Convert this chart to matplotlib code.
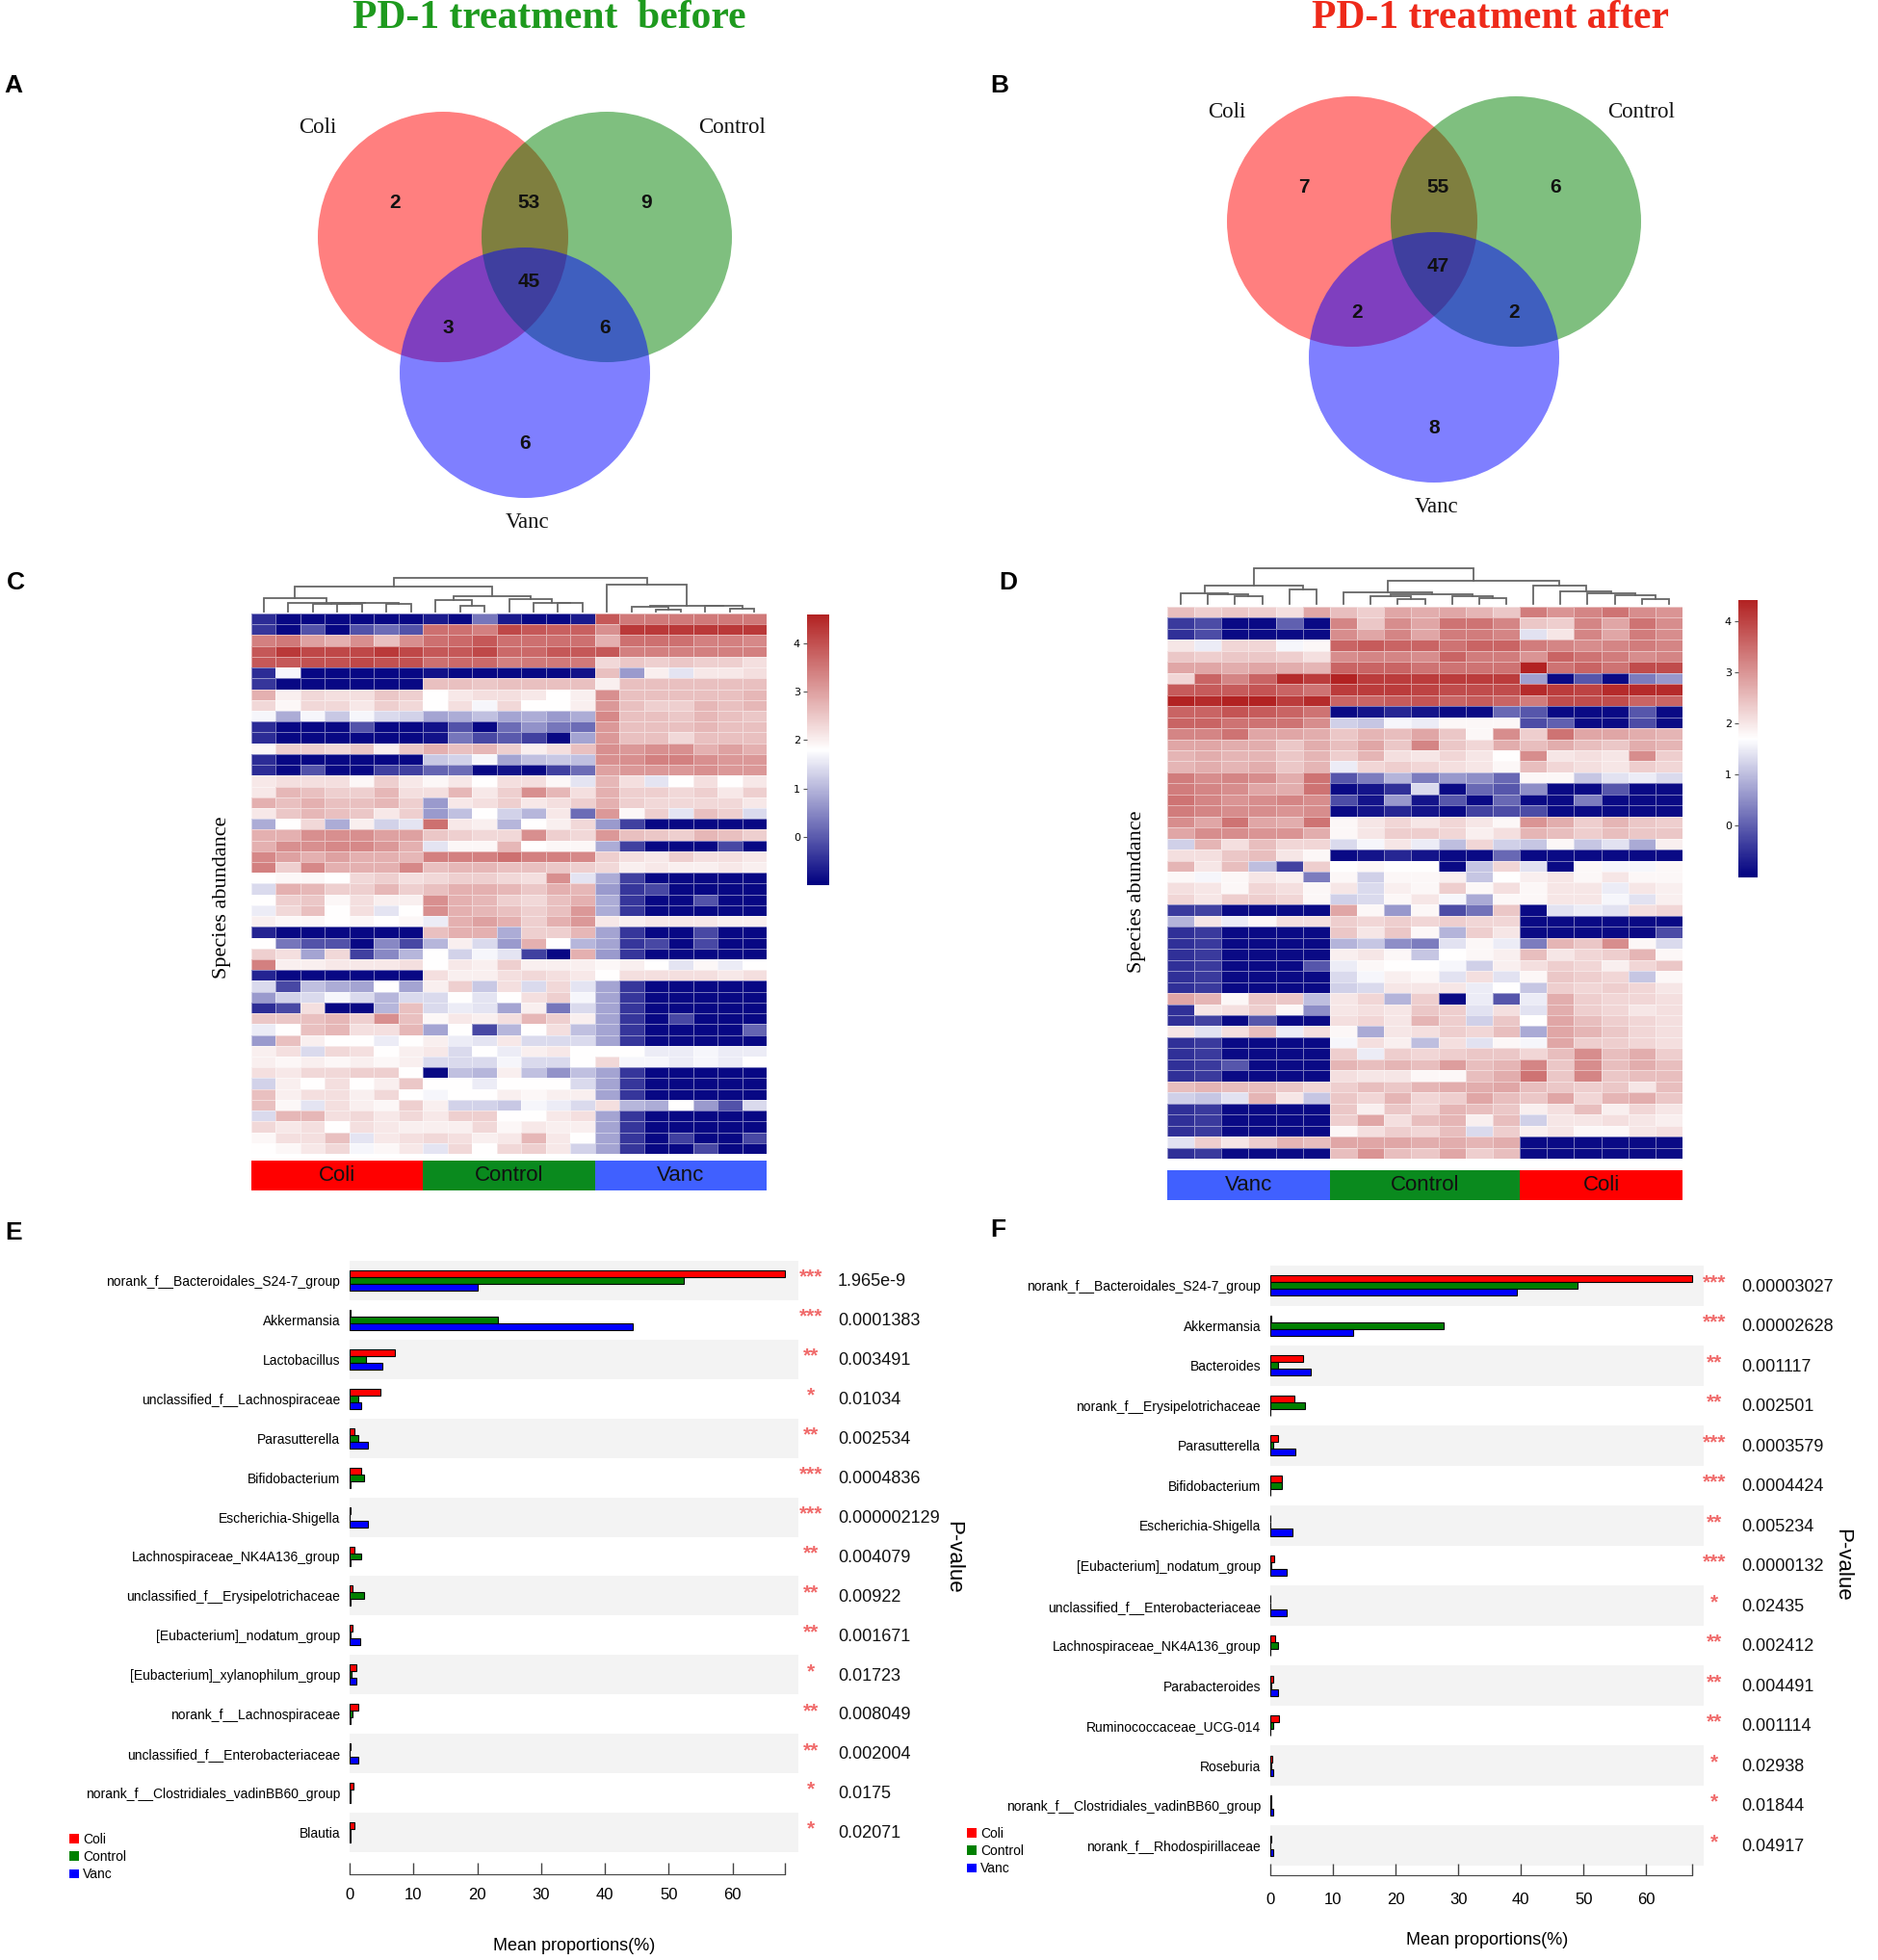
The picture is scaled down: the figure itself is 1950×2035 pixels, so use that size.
import numpy as np
import matplotlib
matplotlib.use("Agg")
import matplotlib.pyplot as plt
from matplotlib.patches import Circle, Patch
from matplotlib.colors import LinearSegmentedColormap
from matplotlib.transforms import blended_transform_factory
import logging
logging.getLogger("matplotlib.font_manager").setLevel(logging.ERROR)

# ---------------------------------------------------------------- data
venn_sets = ["Coli", "Control", "Vanc"]
venn_regions = ["Coli", "Control", "Vanc", "Coli&Control", "Coli&Vanc", "Control&Vanc", "All"]
venn_before = [2, 9, 6, 53, 3, 6, 45]
venn_after = [7, 6, 8, 55, 2, 2, 47]

heat_c_groups = ["Coli"] * 7 + ["Control"] * 7 + ["Vanc"] * 7
heat_d_groups = ["Vanc"] * 6 + ["Control"] * 7 + ["Coli"] * 6

heat_c = np.array([
    [-0.5,-0.9,-0.9,-0.9,-0.9,-0.9,-0.9, -0.7,-0.9,0.3,-0.7,-0.9,-0.9,-0.7, 3.9,3.5,3.5,3.5,3.5,3.5,3.5],
    [-0.4,-0.9,-0.1,-0.9,-0.1,0.2,-0.1, 3.6,3.6,3.4,4.1,3.9,3.8,3.8, 3.2,4.3,4.3,4.3,4.3,4.3,4.3],
    [3.4,3.5,3.0,2.8,3.2,2.6,3.2, 3.6,3.7,3.9,3.6,3.6,3.6,3.6, 2.8,3.6,3.6,3.6,3.4,3.4,3.3],
    [3.9,4.3,4.1,4.1,4.1,4.3,4.1, 3.9,3.9,4.1,3.7,3.7,3.9,3.9, 3.9,3.4,3.4,3.4,3.4,3.4,3.4],
    [3.9,3.9,4.0,4.0,4.1,4.0,4.0, 3.6,3.7,3.7,3.4,3.5,3.5,3.5, 2.3,2.5,2.4,2.5,2.4,2.4,2.2],
    [-0.5,1.7,-0.9,-0.9,-0.9,-0.9,-0.9, -0.8,-0.9,-0.9,-0.9,-0.9,-0.9,-0.8, 2.6,0.7,2.0,1.5,2.1,2.1,2.2],
    [-0.4,-0.9,-0.9,-0.9,-0.9,-0.9,-0.9, 2.6,2.6,2.5,2.6,2.6,2.6,2.6, 2.0,2.6,2.6,2.6,2.6,2.6,2.6],
    [2.8,2.0,2.3,2.2,2.2,2.5,2.4, 1.8,2.1,2.2,2.2,2.1,1.8,2.0, 3.2,2.6,2.6,2.6,2.6,2.6,2.7],
    [2.3,1.9,2.3,2.3,2.1,2.4,2.3, 1.8,2.2,1.7,2.3,1.8,1.8,2.0, 3.1,2.6,2.4,2.4,2.7,2.6,2.7],
    [1.7,0.9,1.7,1.2,1.7,1.4,1.3, 0.8,0.9,1.1,0.8,0.9,0.7,0.9, 3.3,2.6,2.6,2.5,2.7,2.6,2.5],
    [-0.5,-0.9,-0.9,-0.9,-0.1,-0.9,-0.9, -0.8,-0.1,-0.9,0.2,0.6,0.3,0.2, 3.1,2.6,2.6,2.6,2.7,2.6,2.6],
    [-0.5,-0.9,-0.9,-0.9,-0.9,-0.9,-0.9, -0.8,0.3,-0.2,0.0,-0.3,-0.9,0.8, 3.1,2.6,2.6,2.3,2.6,2.6,2.6],
    [1.9,2.4,2.4,2.3,2.5,2.0,2.5, 2.8,2.6,2.7,2.4,2.0,2.2,2.6, 3.2,3.1,3.2,3.2,2.8,3.0,2.8],
    [-0.5,-0.9,-0.9,-0.9,-0.9,-0.9,-0.9, 1.2,1.3,1.7,0.8,1.1,1.2,1.1, 3.2,3.2,3.4,3.4,3.2,3.1,3.1],
    [-0.5,-0.9,-0.1,-0.9,-0.9,-0.3,-0.3, 0.1,0.2,-0.9,-0.8,-0.9,-0.3,0.2, 3.0,3.1,3.1,3.1,3.2,3.1,3.1],
    [2.1,2.2,2.2,2.2,1.9,2.4,2.1, 1.9,2.1,1.8,2.2,2.2,1.9,1.5, 2.7,2.2,1.5,1.8,2.2,1.8,2.1],
    [2.1,2.7,2.6,2.4,2.4,2.7,2.2, 2.2,2.7,2.1,2.4,3.2,2.7,2.2, 2.8,2.4,2.4,2.3,2.4,2.1,2.4],
    [2.8,2.6,2.8,2.6,2.6,2.7,2.4, 0.7,2.1,2.2,2.4,2.1,2.2,2.4, 2.8,2.4,2.3,2.3,2.3,2.3,2.1],
    [2.1,2.5,2.7,2.6,2.5,2.1,2.4, 0.7,1.1,1.8,1.3,1.0,2.1,0.2, 3.1,1.9,2.4,1.5,2.6,2.4,1.4],
    [0.9,1.8,2.3,0.9,2.0,1.3,1.5, 3.6,2.1,2.0,1.0,1.8,2.0,2.3, 0.7,-0.3,-0.9,-0.9,-0.9,-0.9,-0.9],
    [2.8,2.8,3.2,3.2,3.2,3.0,3.0, 2.5,2.4,2.3,2.3,3.2,2.4,2.3, 3.1,2.6,2.5,2.4,2.7,2.6,2.4],
    [2.8,3.2,3.2,3.3,3.3,3.1,2.8, 1.5,1.9,1.9,2.7,1.8,1.9,1.9, 0.9,-0.3,-0.9,-0.9,-0.9,-0.2,-0.9],
    [3.3,3.0,2.8,3.0,2.8,2.8,2.7, 3.4,3.4,3.4,3.6,3.4,3.4,3.3, 2.4,2.2,2.1,2.4,2.2,2.2,2.1],
    [3.4,2.4,3.3,2.8,2.8,2.8,3.3, 2.6,2.7,2.7,2.6,2.6,2.5,2.4, 2.3,2.0,2.1,2.0,2.0,2.1,2.0],
    [1.8,1.9,1.9,1.8,2.3,2.4,2.2, 2.3,2.4,2.4,2.3,2.2,3.2,1.5, 0.9,-0.3,-0.9,-0.9,-0.9,-0.9,-0.9],
    [1.4,2.8,2.7,2.4,2.4,2.7,2.4, 2.6,2.8,2.8,2.7,2.5,2.8,2.7, 0.7,-0.4,-0.2,-0.9,-0.9,-0.9,-0.9],
    [1.8,2.4,2.5,1.9,2.2,2.0,2.0, 3.2,2.8,2.7,2.4,2.3,2.6,2.8, 0.9,-0.4,-0.9,-0.9,-0.1,-0.9,-0.9],
    [1.6,2.3,2.6,1.8,2.2,1.5,1.8, 3.2,2.8,2.7,2.6,2.4,2.6,3.1, 0.9,-0.4,-0.9,-0.9,-0.9,-0.9,-0.9],
    [2.0,1.9,1.9,1.8,1.9,1.8,1.9, 1.6,2.8,3.0,2.8,2.4,2.8,3.1, 2.1,2.0,2.1,2.1,2.1,2.0,2.0],
    [-0.6,-0.9,-0.9,-0.9,-0.9,-0.9,-0.9, 2.6,2.8,2.8,0.9,2.4,2.4,2.7, 0.8,-0.4,-0.9,-0.9,-0.2,-0.9,-0.9],
    [1.8,0.3,-0.1,-0.1,-0.9,0.5,-0.2, 1.0,2.0,1.4,0.7,2.8,1.8,1.0, 0.8,-0.4,-0.2,-0.9,-0.2,-0.9,-0.9],
    [2.4,2.2,0.8,2.3,-0.3,0.5,1.0, 1.8,1.3,1.7,1.5,-0.3,-0.9,2.8, 0.7,-0.4,-0.9,-0.9,-0.9,-0.9,-0.9],
    [3.4,2.0,2.0,2.1,2.1,2.1,2.2, 1.8,2.1,2.0,2.4,2.0,2.0,2.0, 1.9,2.0,1.8,1.5,1.9,1.6,1.8],
    [-0.6,-0.9,-0.9,-0.9,-0.9,-0.9,-0.9, 2.2,2.0,2.0,2.2,2.3,2.2,2.1, 1.8,2.2,2.2,2.2,2.2,2.1,2.2],
    [1.4,-0.2,1.1,0.9,0.8,1.8,0.8, 2.0,2.4,1.2,2.2,1.4,2.3,1.5, 0.8,-0.4,-0.9,-0.9,-0.9,-0.9,-0.9],
    [0.7,1.3,1.4,1.7,1.4,1.0,1.4, 1.4,1.8,1.5,1.8,2.2,2.4,1.7, 0.8,-0.4,-0.9,-0.9,-0.9,-0.9,-0.9],
    [-0.5,-0.2,2.2,-0.9,-0.9,1.0,2.6, 1.4,1.6,1.5,0.8,2.0,0.3,1.4, 0.8,-0.4,-0.9,-0.9,-0.9,-0.9,-0.9],
    [2.5,2.5,2.6,2.7,2.4,3.2,2.6, 1.9,2.1,2.0,2.2,2.7,2.4,2.0, 0.8,-0.4,-0.9,-0.2,-0.9,-0.9,-0.9],
    [1.6,1.8,2.6,2.7,2.2,2.2,2.7, 0.8,1.8,-0.2,1.0,1.8,2.2,1.1, 0.8,-0.4,-0.9,-0.9,-0.9,-0.9,0.1],
    [0.7,2.6,2.0,1.8,1.8,1.6,1.8, 2.0,1.6,1.5,2.1,1.4,1.4,1.4, 0.8,-0.4,-0.9,-0.9,-0.9,-0.9,-0.9],
    [2.0,2.2,1.4,2.3,2.2,1.8,2.0, 2.1,1.4,1.8,1.6,2.0,2.1,1.8, 1.8,1.8,1.6,1.6,1.7,1.6,1.6],
    [2.0,1.9,2.0,1.9,2.0,1.9,2.0, 1.4,1.4,1.4,1.7,1.4,1.4,1.8, 2.3,1.7,1.7,1.6,1.7,1.6,1.8],
    [2.2,2.1,2.3,2.3,2.4,2.4,1.8, -0.9,1.1,1.0,2.0,1.1,0.6,1.1, 0.8,-0.4,-0.9,-0.9,-0.9,-0.9,-0.9],
    [1.3,2.0,1.8,2.2,1.8,2.0,2.5, 1.8,1.8,1.6,1.8,1.8,1.8,1.4, 0.8,-0.4,-0.9,-0.9,-0.9,-0.9,-0.9],
    [2.6,2.0,2.2,2.2,2.0,2.3,1.8, 1.7,1.8,1.8,2.0,1.9,2.0,2.0, 0.8,-0.4,-0.9,-0.9,-0.9,-0.9,-0.9],
    [2.6,1.9,1.5,2.2,2.0,1.9,2.4, 2.0,1.3,1.3,1.2,1.7,1.6,1.4, 2.2,1.0,0.9,1.8,0.7,-0.1,1.4],
    [1.4,2.7,2.7,2.2,2.3,2.1,2.3, 2.1,2.4,2.4,1.8,1.8,2.1,2.2, 0.8,-0.4,-0.9,-0.9,-0.9,-0.9,-0.9],
    [2.3,2.1,2.2,1.8,2.2,2.1,2.0, 2.0,2.0,2.3,1.9,2.1,2.0,2.0, 0.8,-0.4,-0.9,-0.9,-0.9,-0.9,-0.9],
    [1.9,2.2,2.2,2.6,1.5,2.1,2.2, 2.3,2.2,2.0,2.1,2.7,2.1,1.8, 0.8,-0.4,-0.9,-0.3,-0.9,-0.9,-0.2],
    [1.8,1.9,2.1,2.3,1.7,1.9,2.1, 1.5,2.3,1.8,2.3,2.4,2.1,1.3, 0.8,-0.4,-0.9,-0.9,-0.2,-0.9,-0.9],
])

heat_d = np.array([
    [2.5,2.3,2.4,2.3,2.1,2.8, 2.5,2.3,2.8,2.7,2.8,2.6,2.4, 3.3,3.0,3.2,3.4,3.1,3.0],
    [-0.4,-0.2,-0.9,-0.9,0.0,-0.9, 3.2,2.4,3.1,2.8,3.4,3.4,3.2, 2.4,2.3,3.2,2.8,3.4,3.1],
    [-0.5,-0.2,-0.9,-0.9,-0.9,-0.9, 3.1,2.8,3.2,2.8,3.3,3.3,3.2, 1.4,2.0,3.2,2.8,3.3,3.1],
    [2.0,1.5,2.2,2.2,1.6,1.8, 3.6,3.7,3.6,3.6,3.4,3.6,3.6, 3.3,3.2,3.1,3.2,3.3,3.2],
    [2.4,2.3,2.4,2.4,2.3,2.1, 3.1,3.2,3.2,3.1,3.6,3.3,3.3, 3.0,3.6,3.4,3.3,3.1,3.2],
    [2.8,2.8,2.7,2.8,2.7,2.6, 3.6,3.6,3.6,3.4,3.4,3.4,3.4, 4.4,3.4,3.6,3.4,3.9,3.9],
    [2.2,3.6,3.2,3.6,4.3,4.1, 4.4,4.1,4.1,4.1,4.1,4.1,4.1, 0.7,-0.9,-0.1,-0.9,0.3,0.6],
    [3.7,3.7,3.7,3.8,3.6,3.4, 4.1,4.1,4.1,4.0,3.9,3.9,3.9, 4.3,4.1,4.0,4.3,4.3,4.3],
    [4.4,4.3,4.4,4.4,4.1,4.3, 3.6,3.6,3.7,3.8,3.6,3.7,3.6, 3.3,3.9,3.9,3.9,3.6,3.6],
    [3.6,3.6,3.8,3.7,3.6,3.4, -0.9,-0.8,-0.6,-0.8,-0.9,-0.9,0.1, -0.1,-0.9,-0.9,-0.9,-0.1,-0.9],
    [3.6,3.6,3.4,3.4,3.4,3.1, 1.2,1.1,1.6,1.5,1.8,1.8,1.8, -0.2,0.0,-0.9,-0.9,-0.2,-0.9],
    [3.2,3.2,3.4,2.8,2.8,2.7, 2.4,2.6,2.5,2.8,2.4,1.8,3.1, 2.3,3.4,2.8,2.8,2.7,2.6],
    [2.8,2.8,2.7,2.7,2.4,2.7, 2.5,2.8,2.4,3.2,2.4,2.2,2.7, 2.5,2.7,2.5,2.4,2.7,2.6],
    [2.6,2.7,2.6,2.6,2.4,2.6, 2.3,2.6,2.1,2.0,2.2,2.0,1.7, 3.1,2.0,2.1,2.0,3.1,2.3],
    [2.6,2.7,2.6,2.7,2.4,2.6, 1.5,2.2,2.3,2.2,2.1,2.0,1.8, 2.5,2.2,2.1,2.0,2.3,2.2],
    [3.3,3.1,3.2,3.1,2.7,3.4, -0.1,0.3,0.9,0.3,0.6,0.5,0.1, 1.8,1.8,1.1,1.4,1.5,1.3],
    [3.3,3.2,3.1,2.8,2.7,3.4, -0.9,-0.8,-0.5,1.3,-0.9,0.1,-0.1, 0.5,-0.9,-0.9,-0.1,-0.9,-0.9],
    [3.4,3.2,3.0,3.1,3.2,3.1, -0.2,-0.8,0.6,-0.8,-0.1,-0.9,0.1, -0.9,-0.9,0.3,-0.9,-0.9,-0.9],
    [3.3,3.2,3.1,3.1,3.0,3.1, -0.9,-0.8,-0.6,-0.8,-0.9,-0.3,-0.2, -0.2,-0.9,-0.9,-0.9,-0.9,-0.9],
    [3.1,2.8,3.4,2.8,2.7,3.4, 1.8,2.0,2.2,2.0,2.2,2.0,1.8, 3.0,2.7,2.3,2.6,2.4,2.3],
    [2.8,3.1,3.1,3.0,3.0,2.7, 1.8,2.0,2.3,2.3,2.2,1.9,2.1, 2.6,2.5,2.3,2.5,2.4,2.4],
    [1.2,2.6,2.1,2.5,2.2,2.2, 1.3,1.6,2.0,1.5,1.0,2.2,1.2, 1.1,1.8,1.1,1.4,0.8,1.9],
    [2.1,2.1,2.4,2.5,2.0,1.8, -0.9,-0.8,-0.6,-0.8,-0.9,-0.9,0.1, -0.9,-0.9,-0.9,-0.9,-0.9,-0.9],
    [2.6,2.0,2.5,1.0,-0.3,2.3, 1.7,1.8,1.7,1.7,-0.9,1.1,2.2, 1.4,-0.9,1.8,1.6,1.6,1.8],
    [1.8,1.6,1.8,2.0,1.9,0.3, 1.8,1.2,1.8,1.8,1.9,1.1,1.7, 1.9,2.0,1.8,2.0,1.8,1.8],
    [2.1,2.0,1.8,2.2,2.1,1.8, 2.0,1.3,1.9,1.8,2.3,1.8,2.1, 1.8,2.0,2.0,1.5,2.0,1.9],
    [2.2,2.0,2.3,2.3,2.2,1.8, 1.2,1.3,1.8,2.0,1.6,0.8,1.8, 1.8,2.0,2.0,1.6,1.4,1.9],
    [-0.4,-0.3,-0.9,-0.9,-0.9,-0.9, 2.8,1.8,0.6,1.8,-0.2,0.2,2.4, -0.9,1.4,1.5,1.4,2.1,2.2],
    [0.9,2.0,1.5,1.8,2.1,2.1, 2.3,2.2,2.3,2.2,2.3,2.2,2.2, -0.9,-0.9,-0.9,-0.9,-0.9,-0.9],
    [-0.5,-0.4,-0.9,-0.9,-0.9,-0.9, 2.4,2.0,2.4,1.8,0.9,2.3,2.0, -0.9,-0.9,-0.9,-0.9,-0.9,-0.2],
    [-0.5,-0.4,-0.9,-0.9,-0.9,-0.9, 0.9,1.1,0.5,0.3,1.4,1.8,1.5, 0.3,2.6,2.4,3.1,1.8,1.3],
    [-0.5,-0.4,-0.9,-0.9,-0.9,-0.9, 1.9,2.0,1.8,1.1,1.7,1.8,1.9, 2.5,2.0,2.2,2.3,2.6,1.8],
    [-0.5,-0.4,-0.9,-0.9,-0.9,-0.1, 1.5,1.8,1.7,1.7,1.6,1.2,1.9, 2.1,2.3,2.2,1.9,2.2,2.4],
    [-0.5,-0.4,-0.9,-0.9,-0.9,-0.9, 1.3,1.6,1.9,1.8,1.4,2.1,1.4, 1.8,2.4,2.3,2.2,1.1,1.8],
    [-0.5,-0.4,-0.9,-0.9,-0.9,-0.9, 1.2,1.3,2.0,2.0,2.0,1.5,1.7, 1.1,2.3,2.2,2.3,2.2,2.0],
    [2.8,2.6,1.8,2.4,2.4,1.0, 2.0,2.2,0.9,2.3,-0.9,1.5,-0.1, 1.5,2.7,2.3,2.2,2.2,2.1],
    [-0.5,2.0,2.1,2.3,1.8,0.5, 2.0,2.1,2.0,2.4,2.3,1.4,2.1, 1.4,2.7,2.3,2.2,2.0,2.1],
    [-0.5,-0.3,-0.9,-0.1,-0.9,-0.9, 2.1,2.2,2.0,2.6,2.3,1.2,2.4, 1.7,2.8,2.5,2.3,2.2,2.1],
    [2.0,1.4,2.1,2.5,1.5,2.1, 1.8,0.8,2.0,2.1,2.3,2.2,2.5, 0.8,2.8,2.6,2.4,2.2,2.1],
    [-0.5,-0.4,-0.9,-0.9,-0.9,-0.9, 1.6,2.1,1.9,1.0,2.1,1.4,1.8, 1.6,2.8,2.3,2.3,2.2,2.1],
    [-0.5,-0.4,-0.9,-0.9,-0.9,-0.9, 2.3,1.5,2.3,2.2,2.3,2.4,2.4, 2.2,2.5,3.1,2.5,2.7,2.3],
    [-0.5,-0.4,-0.1,-0.9,-0.9,-0.9, 2.6,2.5,2.6,2.5,2.9,2.5,2.6, 3.2,2.4,3.1,2.5,2.7,2.5],
    [-0.5,-0.4,-0.9,-0.9,-0.9,-0.9, 2.1,2.0,2.0,1.8,1.8,2.5,2.7, 3.4,2.4,3.2,2.4,2.5,2.5],
    [2.5,2.6,2.5,2.5,2.4,2.2, 2.3,2.5,2.4,2.6,2.7,2.7,2.8, 2.5,2.4,2.3,2.4,2.0,2.5],
    [1.2,1.1,1.4,2.6,2.0,1.1, 2.4,2.2,2.6,2.2,2.3,2.8,2.5, 2.4,2.8,2.2,2.6,2.7,2.4],
    [-0.5,-0.4,-0.9,-0.9,-0.9,-0.9, 2.4,1.9,2.4,2.2,2.6,2.5,2.4, 1.9,2.1,2.5,1.9,2.2,2.0],
    [-0.5,-0.4,-0.9,-0.9,-0.9,-0.9, 2.3,2.8,2.1,2.5,2.6,1.9,2.5, 1.2,2.0,2.0,2.1,2.0,1.9],
    [-0.5,-0.4,-0.9,-0.9,-0.9,-0.9, 1.8,2.1,2.3,2.2,2.5,1.3,2.3, 1.9,2.0,1.8,1.8,2.0,2.1],
    [1.4,2.3,2.0,2.3,2.6,2.5, 2.8,2.8,2.8,2.7,2.7,2.6,2.7, -0.9,-0.9,-0.9,-0.9,-0.9,-0.9],
    [-0.5,-0.4,-0.9,-0.9,-0.9,-0.9, 2.5,3.0,2.5,2.4,2.8,2.3,2.5, -0.9,-0.9,-0.9,-0.9,-0.9,-0.9],
])

# column dendrograms: (child a, child b, merge height); leaves are 0..n-1
dendro_c = [(3, 4, 22), (2, 21, 24), (5, 6, 22), (22, 23, 26), (1, 24, 27), (0, 25, 40),
            (8, 9, 16), (7, 27, 34), (12, 13, 25), (11, 29, 27), (10, 30, 37), (28, 31, 46),
            (26, 32, 74), (16, 17, 7), (15, 34, 14), (19, 20, 10), (18, 36, 16), (35, 37, 18),
            (14, 38, 80), (33, 39, 100)]
dendro_d = [(2, 3, 23), (1, 19, 28), (0, 20, 31), (4, 5, 44), (21, 22, 53),
            (8, 9, 13), (7, 24, 23), (11, 12, 16), (10, 26, 24), (25, 27, 28), (6, 28, 33),
            (17, 18, 15), (16, 30, 26), (15, 31, 31), (14, 32, 38), (13, 33, 53),
            (29, 34, 68), (23, 35, 106)]

e_taxa = ["norank_f__Bacteroidales_S24-7_group", "Akkermansia", "Lactobacillus",
          "unclassified_f__Lachnospiraceae", "Parasutterella", "Bifidobacterium",
          "Escherichia-Shigella", "Lachnospiraceae_NK4A136_group",
          "unclassified_f__Erysipelotrichaceae", "[Eubacterium]_nodatum_group",
          "[Eubacterium]_xylanophilum_group", "norank_f__Lachnospiraceae",
          "unclassified_f__Enterobacteriaceae", "norank_f__Clostridiales_vadinBB60_group",
          "Blautia"]
e_coli = [68.2, 0.1, 7.1, 4.9, 0.7, 1.8, 0.1, 0.8, 0.5, 0.4, 1.1, 1.4, 0.1, 0.6, 0.7]
e_control = [52.3, 23.2, 2.6, 1.4, 1.3, 2.2, 0.05, 1.8, 2.2, 0.1, 0.3, 0.4, 0.05, 0.2, 0.2]
e_vanc = [20.0, 44.3, 5.1, 1.8, 2.9, 0.1, 2.9, 0.1, 0.1, 1.6, 1.0, 0.1, 1.4, 0.1, 0.1]
e_stars = ["***", "***", "**", "*", "**", "***", "***", "**", "**", "**", "*", "**", "**", "*", "*"]
e_pvals = ["1.965e-9", "0.0001383", "0.003491", "0.01034", "0.002534", "0.0004836",
           "0.000002129", "0.004079", "0.00922", "0.001671", "0.01723", "0.008049",
           "0.002004", "0.0175", "0.02071"]

f_taxa = ["norank_f__Bacteroidales_S24-7_group", "Akkermansia", "Bacteroides",
          "norank_f__Erysipelotrichaceae", "Parasutterella", "Bifidobacterium",
          "Escherichia-Shigella", "[Eubacterium]_nodatum_group",
          "unclassified_f__Enterobacteriaceae", "Lachnospiraceae_NK4A136_group",
          "Parabacteroides", "Ruminococcaceae_UCG-014", "Roseburia",
          "norank_f__Clostridiales_vadinBB60_group", "norank_f__Rhodospirillaceae"]
f_coli = [67.3, 0.1, 5.3, 3.9, 1.2, 1.9, 0.05, 0.6, 0.05, 0.7, 0.5, 1.4, 0.3, 0.2, 0.1]
f_control = [49.0, 27.7, 1.3, 5.5, 0.4, 1.8, 0.05, 0.1, 0.05, 1.2, 0.2, 0.4, 0.1, 0.1, 0.05]
f_vanc = [39.3, 13.2, 6.5, 0.05, 4.0, 0.05, 3.5, 2.6, 2.6, 0.05, 1.2, 0.05, 0.4, 0.4, 0.4]
f_stars = ["***", "***", "**", "**", "***", "***", "**", "***", "*", "**", "**", "**", "*", "*", "*"]
f_pvals = ["0.00003027", "0.00002628", "0.001117", "0.002501", "0.0003579", "0.0004424",
           "0.005234", "0.0000132", "0.02435", "0.002412", "0.004491", "0.001114",
           "0.02938", "0.01844", "0.04917"]

# ---------------------------------------------------------------- style
NARROW = ["Liberation Sans Narrow", "Liberation Sans", "DejaVu Sans"]
SANS = ["Liberation Sans", "DejaVu Sans"]
SERIF = ["Liberation Serif", "DejaVu Serif"]
group_colors = {"Coli": "#ff0000", "Control": "#0a8a1e", "Vanc": "#4060ff"}
venn_colors = ["#ff0000", "#008000", "#0000ff"]
bar_colors = ["#ff0000", "#008000", "#0000ff"]
cmap = LinearSegmentedColormap.from_list("nwr", ["#000080", "#ffffff", "#b22222"])

W, H = 1950, 2035
fig = plt.figure(figsize=(W / 100, H / 100), dpi=100)


def px_axes(x0, y0, x1, y1):
    return fig.add_axes([x0 / W, 1 - y1 / H, (x1 - x0) / W, (y1 - y0) / H])


def ftext(x, y, s, **kw):
    fig.text(x / W, 1 - y / H, s, **kw)


# ---------------------------------------------------------------- Venn
ov = px_axes(0, 0, W, 570)
ov.set_xlim(0, W)
ov.set_ylim(570, 0)
ov.axis("off")


def draw_venn(ox, oy, counts):
    r, dx, dy = 130, 85, 141
    centers = [(ox - dx, oy), (ox + dx, oy), (ox, oy + dy)]
    for (cx, cy), col in zip(centers, venn_colors):
        ov.add_patch(Circle((cx, cy), r, facecolor=col, alpha=0.5, edgecolor="none"))
    offs = [(-135, -36), (126, -36), (0, 215), (4, -36), (-80, 94), (83, 94), (4, 46)]
    for (ddx, ddy), c in zip(offs, counts):
        ov.text(ox + ddx, oy + ddy, str(c), ha="center", va="center", fontsize=15,
                fontweight="bold", family=NARROW, color="#111111")
    loffs = [(-215, -114), (215, -114), (3, 297)]
    for (ddx, ddy), name in zip(loffs, venn_sets):
        ov.text(ox + ddx, oy + ddy, name, ha="center", va="center", fontsize=16.5,
                family=SERIF, color="#111111")


draw_venn(545, 246, venn_before)
draw_venn(1489, 230, venn_after)
ftext(570, 19, "PD-1 treatment  before", ha="center", va="center", fontsize=30,
      fontweight="bold", family=SERIF, color="#1e9a1e")
ftext(1548, 19, "PD-1 treatment after", ha="center", va="center", fontsize=30,
      fontweight="bold", family=SERIF, color="#ee2a1a")

for letter, x, y in [("A", 14, 89), ("B", 1038, 89), ("C", 16, 605), ("D", 1047, 605),
                     ("E", 14, 1280), ("F", 1036, 1277)]:
    ftext(x, y, letter, ha="center", va="center", fontsize=19, fontweight="bold", family=SANS)


# ---------------------------------------------------------------- heatmaps
def draw_dendro(box, linkage, n, hmax):
    ax = px_axes(*box)
    xs = {i: i + 0.5 for i in range(n)}
    hs = {i: 0.0 for i in range(n)}
    for k, (a, b, h) in enumerate(linkage):
        xa, xb = xs[a], xs[b]
        ax.plot([xa, xa, xb, xb], [hs[a], h, h, hs[b]], color="#666666", lw=1.3,
                solid_joinstyle="miter", clip_on=False)
        xs[n + k] = (xa + xb) / 2
        hs[n + k] = h
    ax.set_xlim(0, n)
    ax.set_ylim(0, hmax)
    ax.axis("off")


def draw_heat(box, mat, vmin, vmax, cbox):
    ax = px_axes(*box)
    mesh = ax.pcolormesh(mat, cmap=cmap, vmin=vmin, vmax=vmax,
                         edgecolors=(1, 1, 1, 0.45), linewidth=0.6)
    ax.set_xlim(0, mat.shape[1])
    ax.set_ylim(mat.shape[0], 0)
    ax.axis("off")
    cax = px_axes(*cbox)
    cb = fig.colorbar(mesh, cax=cax, ticks=[0, 1, 2, 3, 4])
    cb.outline.set_visible(False)
    cax.yaxis.set_ticks_position("left")
    cax.yaxis.set_label_position("left")
    cax.tick_params(labelsize=8, length=3, width=0.8, pad=2, color="#555555")


def draw_groups(box, groups):
    ax = px_axes(*box)
    start = 0
    runs = []
    for i in range(1, len(groups) + 1):
        if i == len(groups) or groups[i] != groups[start]:
            runs.append((groups[start], start, i - start))
            start = i
    for g, s, l in runs:
        ax.barh(0, l, left=s, height=1, color=group_colors[g], edgecolor="none")
        ax.text(s + l / 2, 0, g, ha="center", va="center", fontsize=16, family=SANS,
                color="#111111")
    ax.set_xlim(0, len(groups))
    ax.set_ylim(-0.5, 0.5)
    ax.axis("off")


draw_dendro((261, 600, 796, 635), dendro_c, heat_c.shape[1], 100)
draw_heat((261, 637, 796, 1198), heat_c, -1.0, 4.6, (838, 638, 861, 919))
draw_groups((261, 1205, 796, 1236), heat_c_groups)
ftext(231, 932, "Species abundance", rotation=90, ha="center", va="center",
      fontsize=16, family=SERIF)

draw_dendro((1212, 590, 1747, 627), dendro_d, heat_d.shape[1], 106)
draw_heat((1212, 630, 1747, 1203), heat_d, -1.02, 4.42, (1805, 623, 1825, 911))
draw_groups((1212, 1215, 1747, 1246), heat_d_groups)
ftext(1181, 926, "Species abundance", rotation=90, ha="center", va="center",
      fontsize=16, family=SERIF)


# ---------------------------------------------------------------- bar panels
def bar_panel(x0, x1, ytop, ybot, xmax, spine_px, tick_pad, taxa, coli, ctrl, vanc,
              stars, pvals, star_px, p_px, pv_xy, xl_xy, leg_xy):
    ax = px_axes(x0, ytop, x1, ybot)
    n = len(taxa)
    y = np.arange(n)
    for i in range(0, n, 2):
        ax.axhspan(i - 0.5, i + 0.5, color="#f3f3f3", lw=0, zorder=0)
    bh = 0.17
    for vals, off, col, lab in [(coli, -bh, bar_colors[0], "Coli"),
                                (ctrl, 0, bar_colors[1], "Control"),
                                (vanc, bh, bar_colors[2], "Vanc")]:
        ax.barh(y + off, vals, height=bh, color=col, edgecolor="black", linewidth=0.8,
                label=lab, zorder=2)
    ax.set_xlim(0, xmax)
    ax.set_ylim(n - 0.5, -0.5)
    ax.set_yticks(y)
    ax.set_yticklabels(taxa, fontsize=10, family=NARROW)
    ax.tick_params(axis="y", length=0, pad=7)
    for s in ["left", "right", "top"]:
        ax.spines[s].set_visible(False)
    top = max(max(coli), max(ctrl), max(vanc))
    ax.spines["bottom"].set_position(("outward", spine_px * 0.72))
    ax.spines["bottom"].set_bounds(0, top)
    ax.spines["bottom"].set_color("#444444")
    ticks = list(range(0, 61, 10)) + [top]
    ax.set_xticks(ticks)
    ax.set_xticklabels([str(t) for t in range(0, 61, 10)] + [""], fontsize=12, family=NARROW)
    ax.tick_params(axis="x", direction="in", length=9, width=1, color="#444444",
                   pad=tick_pad)
    tr = blended_transform_factory(ax.transAxes, ax.transData)
    wpx = x1 - x0
    for i in range(n):
        ax.text((star_px - x0) / wpx, i - 0.08, stars[i], transform=tr, ha="center",
                va="center", fontsize=15, fontweight="bold", color="#f06a6a", family=SANS)
        ax.text((p_px - x0) / wpx, i + 0.03, pvals[i], transform=tr, ha="left",
                va="center", fontsize=13, family=NARROW, color="#111111")
    ftext(pv_xy[0], pv_xy[1], "P-value", rotation=-90, ha="center", va="center",
          fontsize=16, family=NARROW)
    ftext(xl_xy[0], xl_xy[1], "Mean proportions(%)", ha="center", va="center",
          fontsize=13, family=NARROW)
    handles = [Patch(facecolor=c, edgecolor="none") for c in bar_colors]
    fig.legend(handles, ["Coli", "Control", "Vanc"], loc="upper left",
               bbox_to_anchor=(leg_xy[0] / W, 1 - leg_xy[1] / H), frameon=False,
               handlelength=0.7, handleheight=0.7, handletextpad=0.3,
               labelspacing=0.3, borderpad=0, borderaxespad=0,
               prop={"family": NARROW, "size": 10})


bar_panel(363, 829, 1309, 1923, 70.3, 23, 10, e_taxa, e_coli, e_control, e_vanc,
          e_stars, e_pvals, 842, 870, (990, 1617), (596, 2020), (72, 1903))
bar_panel(1319, 1769, 1314, 1937, 69.2, 10, 13, f_taxa, f_coli, f_control, f_vanc,
          f_stars, f_pvals, 1780, 1808, (1913, 1625), (1544, 2014), (1004, 1897))

fig.savefig("out.png", dpi=100, facecolor="white")
